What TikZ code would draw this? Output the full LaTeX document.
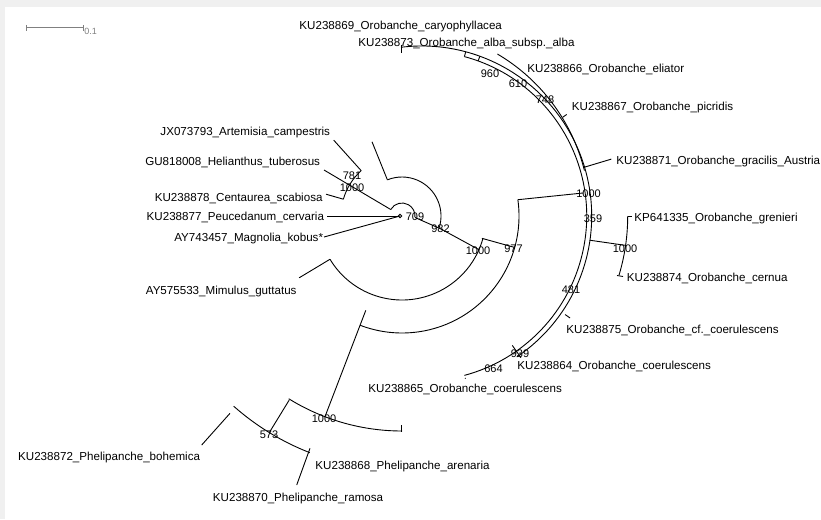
\documentclass[tikz,border=0pt]{standalone}
\usepackage{fontspec}
\setmainfont{Liberation Sans}
\definecolor{framegray}{HTML}{F0F0F0}
\begin{document}
\begin{tikzpicture}[x=1pt,y=-1pt,line width=0.9pt,
  leaf/.style={font=\fontsize{11.6}{13}\selectfont, inner sep=0pt},
  boot/.style={font=\fontsize{11}{13}\selectfont, inner sep=0pt},
  scalebar/.style={draw=gray, line width=1pt}]
\useasboundingbox (0,0) rectangle (821,519);
\fill[framegray] (0,0) rectangle (821,519);
\fill[white] (5,7) rectangle (821,519);
\newcommand\carc[4]{\draw ([shift={(#1)}]#2:#4) arc[start angle=#2, end angle=#3, radius=#4];}
\newcommand\rline[4]{\draw ([shift={(#1)}]#2:#3) -- ([shift={(#1)}]#2:#4);}
\coordinate (O) at (402,216);
\coordinate (P) at (421.7,216);
% scale bar
\draw[scalebar] (26,28) -- (83,28) (26,25) -- (26,31) (83,25) -- (83,31);
\node[anchor=west, inner sep=0pt, text=gray, font=\fontsize{9}{10}\selectfont] (sb) at (84,31) {0.1};
% root
\draw (400,216) circle (1.8);
\draw (327,216.5) -- (398,216.5);
\draw (324,237) -- (400,216);
% 709 small arc and Asteraceae
\carc{O}{-150}{5}{13}
\draw (390.7,209.5) -- (324,170);
\carc{O}{-132}{-164}{61}
\rline{O}{-132}{61}{102}
\rline{O}{-164}{61}{79}
% 982 arc
\carc{O}{-112}{17}{39}
\rline{O}{-112}{39}{80}
\draw (415,217.5) -- (441,229) -- (479,249.7);
% 1000 arc r=84
\carc{O}{15.6}{149}{84}
\rline{O}{149}{84}{120}
\rline{O}{15.6}{83}{117}
% 977 arc r=117
\carc{O}{-8}{111}{117}
\draw (517.9,199.7) -- (583,193);
% Phelipanche
\rline{O}{111}{101}{215}
\carc{O}{121.8}{90}{215}
\draw (401.5,425) -- (401.5,432);
\rline{O}{121.5}{216}{254}
\carc{O}{131.5}{111.3}{254}
\draw (230,413.3) -- (201.7,445);
\draw (310,448.3) -- (296.7,485);
% Orobanche
\draw (401.7,45) -- (401.7,53);
\carc{P}{-97}{56}{170}
\carc{P}{-75}{75}{165}
\rline{P}{-75}{165}{170}
\rline{P}{-70}{165}{170}
\carc{O}{-59.5}{-14}{188}
\rline{P}{-35}{172}{177}
\rline{P}{-16.7}{169}{198}
\rline{P}{8.2}{170}{206}
\carc{P}{0}{16.7}{206}
\draw (628,216) -- (632,216);
\draw (617,275.5) -- (623,276.5);
\rline{P}{34.5}{174}{180}
\rline{P}{55}{158}{173}
\fill (465.3,378.3) circle (0.6);
% leaf labels
\node[leaf, anchor=west] (l1) at (299,27) {KU238869\_Orobanche\_caryophyllacea};
\node[leaf, anchor=west] (l2) at (358,43.5) {KU238873\_Orobanche\_alba\_subsp.\_alba};
\node[leaf, anchor=west] (l3) at (527,69.5) {KU238866\_Orobanche\_eliator};
\node[leaf, anchor=west] (l4) at (571.5,107) {KU238867\_Orobanche\_picridis};
\node[leaf, anchor=west] (l5) at (616,161.5) {KU238871\_Orobanche\_gracilis\_Austria};
\node[leaf, anchor=west] (l6) at (634,218) {KP641335\_Orobanche\_grenieri};
\node[leaf, anchor=west] (l7) at (626.5,278.5) {KU238874\_Orobanche\_cernua};
\node[leaf, anchor=west] (l8) at (566,330.5) {KU238875\_Orobanche\_cf.\_coerulescens};
\node[leaf, anchor=west] (l9) at (517,366) {KU238864\_Orobanche\_coerulescens};
\node[leaf, anchor=west] (l10) at (368,389) {KU238865\_Orobanche\_coerulescens};
\node[leaf, anchor=west] (l11) at (315,466.5) {KU238868\_Phelipanche\_arenaria};
\node[leaf, anchor=west] (l12) at (212.5,498.5) {KU238870\_Phelipanche\_ramosa};
\node[leaf, anchor=east] (l13) at (200.5,457.5) {KU238872\_Phelipanche\_bohemica};
\node[leaf, anchor=east] (l14) at (297,291) {AY575533\_Mimulus\_guttatus};
\node[leaf, anchor=east] (l15) at (323.5,238.5) {AY743457\_Magnolia\_kobus*};
\node[leaf, anchor=east] (l16) at (324.5,217.5) {KU238877\_Peucedanum\_cervaria};
\node[leaf, anchor=east] (l17) at (323,198.5) {KU238878\_Centaurea\_scabiosa};
\node[leaf, anchor=east] (l18) at (320.5,162.5) {GU818008\_Helianthus\_tuberosus};
\node[leaf, anchor=east] (l19) at (330.5,132.5) {JX073793\_Artemisia\_campestris};
% bootstrap labels
\node[boot] (b1) at (490,74) {960};
\node[boot] (b2) at (518,84) {610};
\node[boot] (b3) at (545,99.5) {748};
\node[boot] (b4) at (588.5,193.5) {1000};
\node[boot] (b5) at (593,218.5) {359};
\node[boot] (b6) at (625,248.5) {1000};
\node[boot] (b7) at (571,290) {481};
\node[boot] (b8) at (520,353.5) {939};
\node[boot] (b9) at (493.5,369) {664};
\node[boot] (b10) at (415,217) {709};
\node[boot] (b11) at (440.5,229) {982};
\node[boot] (b12) at (478,250.5) {1000};
\node[boot] (b13) at (513.5,249) {977};
\node[boot] (b14) at (352,176) {781};
\node[boot] (b15) at (352,187.5) {1000};
\node[boot] (b16) at (324,418.5) {1000};
\node[boot] (b17) at (269,434.5) {573};
\end{tikzpicture}
\end{document}
